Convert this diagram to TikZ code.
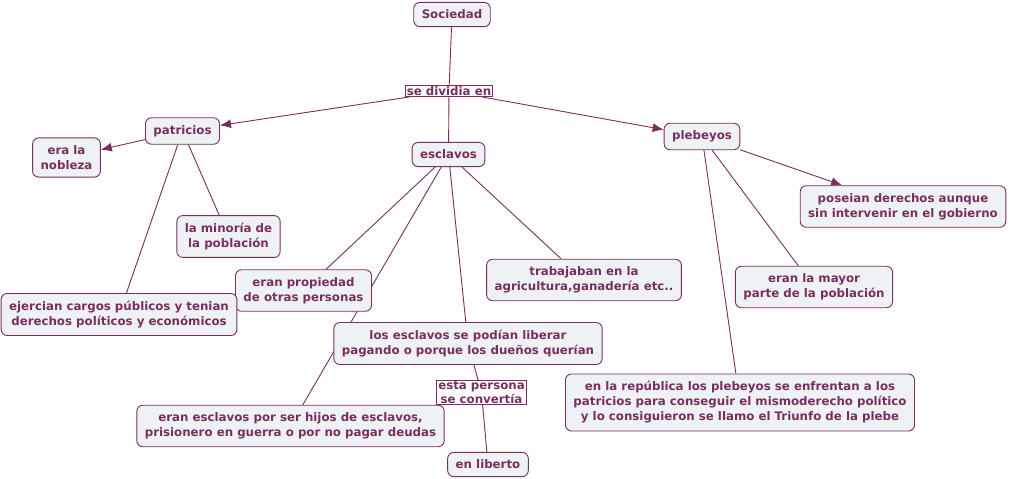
\documentclass[tikz,border=0pt]{standalone}
\usepackage{fontspec}
\setmainfont{DejaVu Sans}
\usetikzlibrary{arrows.meta,backgrounds}
\definecolor{cmapline}{RGB}{122,46,94}
\definecolor{cmapfill}{RGB}{238,242,245}
\tikzset{
  concept/.style={draw=cmapline, fill=cmapfill, rounded corners=6pt, line width=0.9pt,
    text=cmapline, font=\bfseries\fontsize{11.8}{15}\selectfont, align=center,
    inner xsep=8pt, inner ysep=7.5pt},
  linkword/.style={draw=cmapline, fill=white, line width=0.8pt, text=cmapline,
    font=\bfseries\fontsize{11.8}{13.5}\selectfont, align=center,
    inner xsep=1.5pt, inner ysep=1pt},
  conn/.style={draw=cmapline, line width=0.9pt}
}
\begin{document}
\begin{tikzpicture}[x=1pt, y=-1pt, >={Latex[length=11pt,width=9pt]}]
\useasboundingbox (0,0) rectangle (1010,479);
% Concepts
\node[concept] (soc) at (452,14.5) {Sociedad};
\node[concept] (patr) at (182.5,131) {patricios};
\node[concept] (nobl) at (66.5,157.5) {era la\\nobleza};
\node[concept] (escl) at (448.5,154.5) {esclavos};
\node[concept] (pleb) at (702,136.5) {plebeyos};
\node[concept] (minor) at (228.5,236.5) {la minoría de\\la población};
\node[concept] (posei) at (903,206.5) {poseian derechos aunque\\sin intervenir en el gobierno};
\node[concept] (propi) at (303.5,290.5) {eran propiedad\\de otras personas};
\node[concept] (trab) at (584,280) {trabajaban en la\\agricultura,ganadería etc..};
\node[concept] (mayor) at (814,287) {eran la mayor\\parte de la población};
\node[concept] (ejer) at (119,314.5) {ejercian cargos públicos y tenian\\derechos políticos y económicos};
\node[concept] (liber) at (468,343.5) {los esclavos se podían liberar\\pagando o porque los dueños querían};
\node[concept] (repub) at (740,402.5) {en la república los plebeyos se enfrentan a los\\patricios para conseguir el mismoderecho político\\y lo consiguieron se llamo el Triunfo de la plebe};
\node[concept] (hijos) at (290.5,426) {eran esclavos por ser hijos de esclavos,\\prisionero en guerra o por no pagar deudas};
\node[concept] (libto) at (488,464.5) {en liberto};
% Linking phrases
\node[linkword] (divid) at (449,91) {se dividia en};
\node[linkword] (conv) at (481.5,392.5) {esta persona\\se convertía};
% Connectors
\begin{scope}[on background layer]
\fill[white] (0,0) rectangle (1010,479);
\draw[conn] (soc) -- (divid);
\draw[conn, ->] (divid) -- (patr);
\draw[conn] (divid) -- (escl);
\draw[conn, ->] (divid) -- (pleb);
\draw[conn, ->] (patr) -- (nobl);
\draw[conn] (patr) -- (minor);
\draw[conn] (patr) -- (ejer);
\draw[conn] (escl) -- (propi);
\draw[conn] (escl) -- (hijos);
\draw[conn] (escl) -- (liber);
\draw[conn] (escl) -- (trab);
\draw[conn] (liber) -- (conv);
\draw[conn] (conv) -- (libto);
\draw[conn, ->] (pleb) -- (posei);
\draw[conn] (pleb) -- (mayor);
\draw[conn] (pleb) -- (repub);
\end{scope}
\end{tikzpicture}
\end{document}
